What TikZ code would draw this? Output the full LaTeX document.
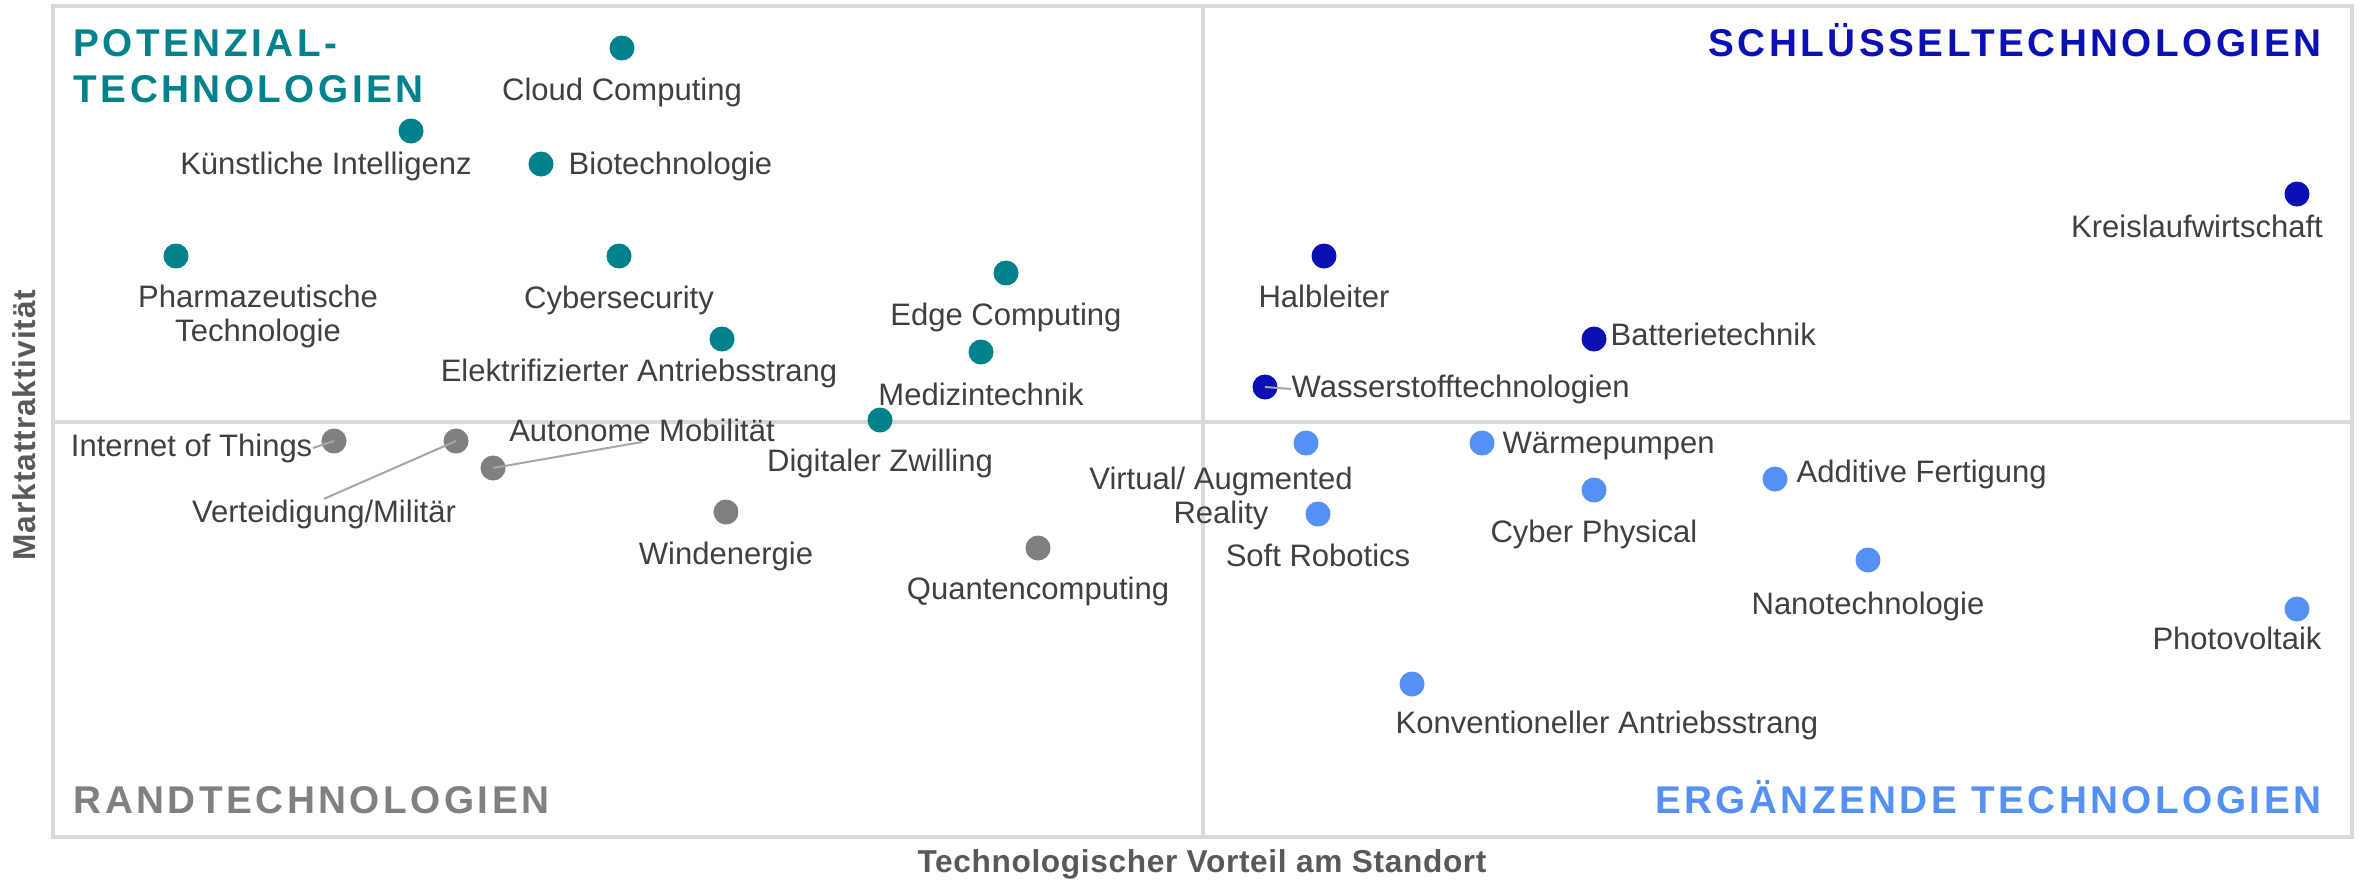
\documentclass[tikz,border=0pt]{standalone}
\usepackage{fontspec}
\setmainfont{Liberation Sans}
\newfontfamily\titlefont{Liberation Sans}[LetterSpace=9]
\newfontfamily\axisfont{Liberation Sans}[LetterSpace=2]
\newfontfamily\yaxisfont{Liberation Sans}[LetterSpace=3]
\definecolor{cTeal}{RGB}{0,130,140}
\definecolor{cDark}{RGB}{10,16,180}
\definecolor{cLight}{RGB}{85,145,245}
\definecolor{cGray}{RGB}{128,128,128}
\definecolor{cText}{RGB}{64,64,64}
\definecolor{cAxis}{RGB}{89,89,89}
\definecolor{cGrid}{RGB}{217,217,217}
\definecolor{cLeader}{RGB}{166,166,166}
\begin{document}
\begin{tikzpicture}[x=0.01cm,y=-0.01cm,
  dot/.style={circle,inner sep=0pt,minimum size=0.25cm},
  tdot/.style={dot,fill=cTeal},
  ddot/.style={dot,fill=cDark},
  ldot/.style={dot,fill=cLight},
  gdot/.style={dot,fill=cGray},
  lbl/.style={inner sep=0pt,text=cText,font=\fontsize{8.82}{9.67}\selectfont},
  qtitle/.style={inner sep=0pt,font=\titlefont\bfseries\fontsize{11}{13.09}\selectfont},
  leader/.style={draw=cLeader,line width=0.57pt},
  gridline/.style={draw=cGrid,line width=1.14pt}]
\useasboundingbox (0,0) rectangle (2362,881);
% frame and cross
\coordinate (fTL) at (53,6);
\coordinate (fBR) at (2352,837);
\coordinate (vT) at (1203,6);
\coordinate (vB) at (1203,837);
\coordinate (hL) at (53,422);
\coordinate (hR) at (2352,422);
\draw[gridline] (fTL) rectangle (fBR);
\draw[gridline] (vT) -- (vB);
\draw[gridline] (hL) -- (hR);
% axis labels
\node[inner sep=0pt,text=cAxis,font=\axisfont\bfseries\fontsize{9}{11}\selectfont,anchor=base] (xlab) at (1202,872) {Technologischer Vorteil am Standort};
\node[inner sep=0pt,text=cAxis,font=\yaxisfont\bfseries\fontsize{9}{11}\selectfont,rotate=90,anchor=base] (ylab) at (35,425) {Marktattraktivität};
% quadrant titles
\node[qtitle,text=cTeal,anchor=base west,align=left] (tPot) at (73,56) {POTENZIAL-};
\node[qtitle,text=cTeal,anchor=base west,align=left] (tPot2) at (73,102) {TECHNOLOGIEN};
\node[qtitle,text=cDark,anchor=base east] (tSchl) at (2322,56) {SCHLÜSSELTECHNOLOGIEN};
\node[qtitle,text=cGray,anchor=base west] (tRand) at (73,813) {RANDTECHNOLOGIEN};
\node[qtitle,text=cLight,anchor=base east] (tErg) at (2322,813) {ERGÄNZENDE TECHNOLOGIEN};
% teal dots
\node[tdot] (d1) at (622,48) {};
\node[lbl,anchor=base] (l1) at (622,100) {Cloud Computing};
\node[tdot] (d2) at (411,131) {};
\node[lbl,anchor=base] (l2) at (326,174) {Künstliche Intelligenz};
\node[tdot] (d3) at (541,164) {};
\node[lbl,anchor=base west] (l3) at (568,174) {Biotechnologie};
\node[tdot] (d4) at (176,256) {};
\node[lbl,anchor=center,align=center] (l4) at (258,316) {Pharmazeutische\\Technologie};
\node[tdot] (d5) at (619,256) {};
\node[lbl,anchor=base] (l5) at (619,308) {Cybersecurity};
\node[tdot] (d6) at (722,339) {};
\node[lbl,anchor=base] (l6) at (639,381) {Elektrifizierter Antriebsstrang};
\node[tdot] (d7) at (1006,273) {};
\node[lbl,anchor=base] (l7) at (1006,325) {Edge Computing};
\node[tdot] (d8) at (981,352) {};
\node[lbl,anchor=base] (l8) at (981,405) {Medizintechnik};
\node[tdot] (d9) at (880,420) {};
\node[lbl,anchor=base] (l9) at (880,471) {Digitaler Zwilling};
% gray dots
\node[gdot] (d10) at (334,441) {};
\node[lbl,anchor=base east] (l10) at (313,456) {Internet of Things};
\node[gdot] (d11) at (456,441) {};
\node[lbl,anchor=base] (l11) at (324,522) {Verteidigung/Militär};
\node[gdot] (d12) at (493,468) {};
\node[lbl,anchor=base] (l12) at (642,441) {Autonome Mobilität};
\node[gdot] (d13) at (726,512) {};
\node[lbl,anchor=base] (l13) at (726,564) {Windenergie};
\node[gdot] (d14) at (1038,548) {};
\node[lbl,anchor=base] (l14) at (1038,599) {Quantencomputing};
% dark blue dots
\node[ddot] (d15) at (1324,256) {};
\node[lbl,anchor=base] (l15) at (1324,307) {Halbleiter};
\node[ddot] (d16) at (2297,194) {};
\node[lbl,anchor=base] (l16) at (2197,237) {Kreislaufwirtschaft};
\node[ddot] (d17) at (1594,339) {};
\node[lbl,anchor=base west] (l17) at (1610,345) {Batterietechnik};
\node[ddot] (d18) at (1265,387) {};
\node[lbl,anchor=base west] (l18) at (1291,397) {Wasserstofftechnologien};
% light blue dots
\node[ldot] (d19) at (1306,443) {};
\node[lbl,anchor=center,align=center] (l19) at (1221,498) {Virtual/ Augmented\\Reality};
\node[ldot] (d20) at (1318,514) {};
\node[lbl,anchor=base] (l20) at (1318,566) {Soft Robotics};
\node[ldot] (d21) at (1482,443) {};
\node[lbl,anchor=base west] (l21) at (1502,453) {Wärmepumpen};
\node[ldot] (d22) at (1594,490) {};
\node[lbl,anchor=base] (l22) at (1594,542) {Cyber Physical};
\node[ldot] (d23) at (1775,479) {};
\node[lbl,anchor=base west] (l23) at (1796,482) {Additive Fertigung};
\node[ldot] (d24) at (1868,560) {};
\node[lbl,anchor=base] (l24) at (1868,614) {Nanotechnologie};
\node[ldot] (d25) at (2297,609) {};
\node[lbl,anchor=base] (l25) at (2237,649) {Photovoltaik};
\node[ldot] (d26) at (1412,684) {};
\node[lbl,anchor=base west] (l26) at (1395,733) {Konventioneller Antriebsstrang};
% leaders
\draw[leader] (d11.center) -- (l11.north);
\draw[leader] (d12.center) -- (l12.south);
\draw[leader] (l10.east) -- (d10.center);
\draw[leader] (d18.center) -- (l18.west);
\end{tikzpicture}
\end{document}
